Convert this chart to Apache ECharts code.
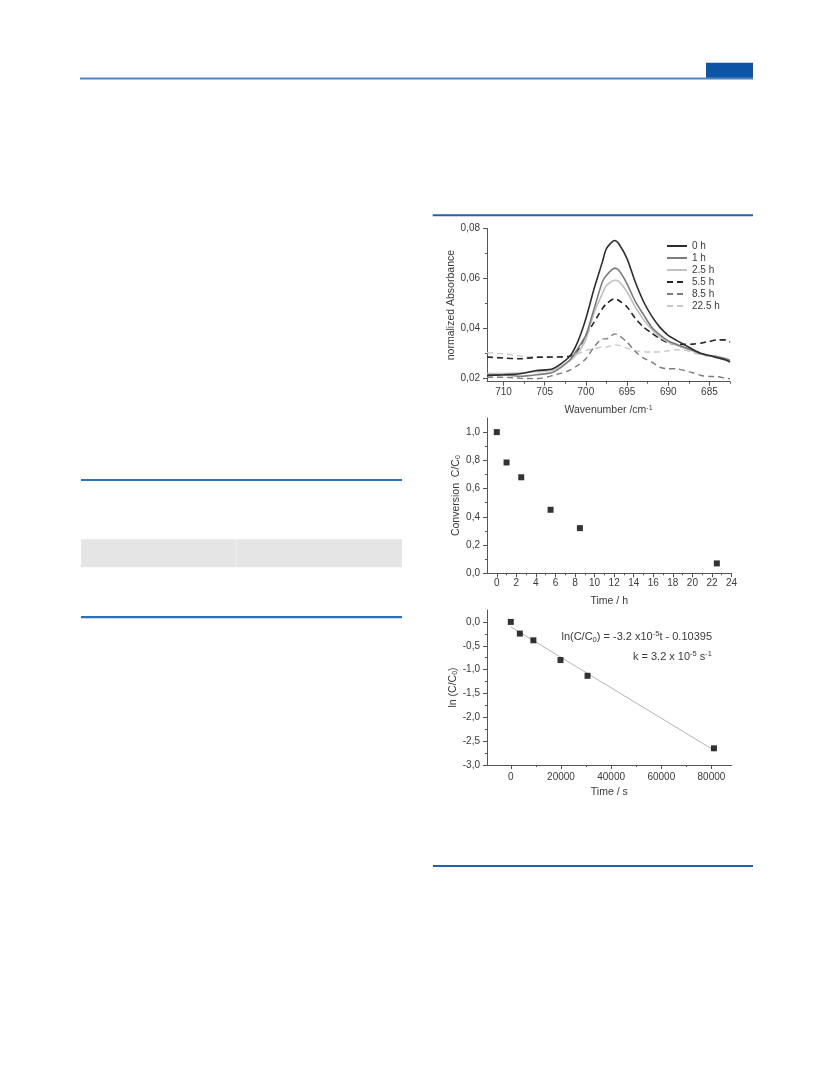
<!DOCTYPE html>
<html><head><meta charset="utf-8">
<script src="https://cdn.jsdelivr.net/npm/echarts@6/dist/echarts.min.js"></script>
<style>html,body{margin:0;padding:0;background:#fff}#c{width:833px;height:1091px}</style>
</head><body><div id="c"></div>
<script>
// ---- Spectra (top panel) ----
const wavenumbers = [712,710,708,706,704,702,701,700,699,698,697.5,696.5,696,695,694,693,692,691,690,689,688,687,686,685,684,683,682.5];
const abs0h  = [0.0210,0.0213,0.0217,0.0230,0.0237,0.0285,0.0344,0.0438,0.0558,0.0665,0.0719,0.0752,0.0739,0.0679,0.0585,0.0507,0.0448,0.0403,0.0371,0.0351,0.0333,0.0314,0.0298,0.0290,0.0281,0.0272,0.0264];
const abs1h  = [0.0213,0.0212,0.0207,0.0213,0.0223,0.0270,0.0317,0.0371,0.0478,0.0585,0.0612,0.0641,0.0632,0.0578,0.0507,0.0454,0.0404,0.0373,0.0349,0.0335,0.0322,0.0310,0.0298,0.0290,0.0285,0.0277,0.0270];
const abs2_5h= [0.0218,0.0218,0.0220,0.0225,0.0232,0.0268,0.0300,0.0355,0.0462,0.0538,0.0571,0.0592,0.0588,0.0545,0.0485,0.0435,0.0395,0.0364,0.0344,0.0331,0.0320,0.0308,0.0296,0.0288,0.0282,0.0274,0.0266];
const abs5_5h= [0.0284,0.0280,0.0277,0.0283,0.0284,0.0287,0.0310,0.0371,0.0424,0.0478,0.0498,0.0518,0.0511,0.0485,0.0440,0.0404,0.0380,0.0357,0.0341,0.0335,0.0335,0.0336,0.0340,0.0347,0.0353,0.0353,0.0344];
const abs8_5h= [0.0203,0.0203,0.0199,0.0197,0.0210,0.0230,0.0250,0.0277,0.0324,0.0357,0.0357,0.0377,0.0371,0.0344,0.0306,0.0280,0.0264,0.0243,0.0237,0.0237,0.0230,0.0221,0.0210,0.0206,0.0205,0.0199,0.0197];
const abs22_5h=[0.0301,0.0297,0.0288,0.0284,0.0284,0.0286,0.0297,0.0310,0.0317,0.0324,0.0324,0.0333,0.0331,0.0320,0.0310,0.0305,0.0304,0.0305,0.0309,0.0313,0.0312,0.0301,0.0293,0.0286,0.0284,0.0277,0.0270];
const spectraNames = ['0 h','1 h','2.5 h','5.5 h','8.5 h','22.5 h'];
const wnTickLabels = [710,705,700,695,690,685];
const wnMinorTicks = [707.5,702.5,697.5,692.5,687.5,682.5];
const absTickLabels = [0.02,0.04,0.06,0.08];
const absMinorTicks = [0.03,0.05,0.07];

// ---- Conversion (middle panel) ----
const timeHours = [0,1,2.5,5.5,8.5,22.5];
const conversion = [1.0,0.785,0.68,0.45,0.32,0.07];
const hourTickLabels = [0,2,4,6,8,10,12,14,16,18,20,22,24];
const hourMinorTicks = [1,3,5,7,9,11,13,15,17,19,21,23];
const convTickLabels = [0,0.2,0.4,0.6,0.8,1.0];
const convMinorTicks = [0.1,0.3,0.5,0.7,0.9];

// ---- ln plot (bottom panel) ----
const timeSeconds = [0,3600,9000,19800,30600,81000];
const lnConversion = [0,-0.245,-0.385,-0.80,-1.13,-2.65];
const fitTime = [0,81000];
const fitLn = [-0.104,-2.69];
const secTickLabels = [0,20000,40000,60000,80000];
const secMinorTicks = [10000,30000,50000,70000];
const lnTickLabels = [-3,-2.5,-2,-1.5,-1,-0.5,0];
const lnMinorTicks = [-2.75,-2.25,-1.75,-1.25,-0.75,-0.25];

const FONT = 'Liberation Sans, Arial, sans-serif';
const TXT = '#3a3a3a';
const AX = '#555';
const SUBRICH = {
  n:{fontSize:10.5,color:TXT,fontFamily:FONT},
  sub:{fontSize:7,color:TXT,fontFamily:FONT,verticalAlign:'bottom',lineHeight:8},
  sup:{fontSize:7,color:TXT,fontFamily:FONT,verticalAlign:'top',lineHeight:8}
};

const grids = [
  {left:487, top:228.5, width:243, height:153.2},
  {left:487, top:418, width:244.5, height:155.3},
  {left:487, top:610, width:244.5, height:155}
];

function mainAxis(dim, g, o) {
  return Object.assign({
    type:'value', gridIndex:g, scale:true,
    axisLine:{show:true, onZero:false, lineStyle:{color:AX,width:1}},
    axisTick:{show:true, length:4, customValues:o.ticks, lineStyle:{color:AX}},
    minorTick:{show:false},
    splitLine:{show:false},
    axisLabel:{show:true, customValues:o.ticks, formatter:o.fmt, color:TXT, fontSize:10, fontFamily:FONT, margin:o.margin},
    nameLocation:'middle', nameGap:o.nameGap, name:o.name,
    nameTextStyle:{rich:SUBRICH, color:TXT, fontSize:10.5, fontFamily:FONT}
  }, dim==='y'?{position:'left'}:{position:'bottom'}, o.extra||{});
}
function minorAxis(dim, g, o) {
  return Object.assign({
    type:'value', gridIndex:g, scale:true, min:o.min, max:o.max,
    axisLine:{show:false, onZero:false},
    axisTick:{show:true, length:2, customValues:o.minor, lineStyle:{color:AX}},
    axisLabel:{show:false, customValues:o.minor},
    splitLine:{show:false}
  }, dim==='y'?{position:'left'}:{position:'bottom'}, o.extra||{});
}

const xCfg = [
  {min:682.5, max:712, ticks:wnTickLabels, minor:wnMinorTicks, fmt:v=>String(v), margin:6, nameGap:23,
   name:'{n|Wavenumber /cm}{sup|-1}', extra:{inverse:true}},
  {min:-1, max:24, ticks:hourTickLabels, minor:hourMinorTicks, fmt:v=>String(v), margin:5, nameGap:22,
   name:'{n|Time / h}'},
  {min:-9500, max:88000, ticks:secTickLabels, minor:secMinorTicks, fmt:v=>String(v), margin:7, nameGap:22,
   name:'{n|Time / s}'}
];
const yCfg = [
  {min:0.0185, max:0.08, ticks:absTickLabels, minor:absMinorTicks, fmt:v=>v.toFixed(2).replace('.',','), margin:7, nameGap:21,
   name:'{n|normalized Absorbance}'},
  {min:0, max:1.1, ticks:convTickLabels, minor:convMinorTicks, fmt:v=>v.toFixed(1).replace('.',','), margin:7, nameGap:25,
   name:'{n|Conversion  C/C}{sub|0}'},
  {min:-3, max:0.25, ticks:lnTickLabels, minor:lnMinorTicks, fmt:v=>v.toFixed(1).replace('.',','), margin:7, nameGap:24,
   name:'{n|ln (C/C}{sub|0}{n|)}'}
];

const xAxes = [], yAxes = [];
for (let g=0; g<3; g++) {
  xAxes.push(Object.assign(mainAxis('x', g, xCfg[g]), {min:xCfg[g].min, max:xCfg[g].max}));
  xAxes.push(minorAxis('x', g, xCfg[g]));
  yAxes.push(Object.assign(mainAxis('y', g, yCfg[g]), {min:yCfg[g].min, max:yCfg[g].max}));
  yAxes.push(minorAxis('y', g, yCfg[g]));
}

const spectra = [abs0h, abs1h, abs2_5h, abs5_5h, abs8_5h, abs22_5h];
const lineStyles = [
  {color:'#2e2e2e', width:1.6, type:'solid'},
  {color:'#7c7c7c', width:1.6, type:'solid'},
  {color:'#c0c0c0', width:1.6, type:'solid'},
  {color:'#262626', width:1.6, type:[6,4]},
  {color:'#7c7c7c', width:1.4, type:[6,4]},
  {color:'#c8c8c8', width:1.4, type:[6,4]}
];

const series = spectra.map((arr, i) => ({
  name: spectraNames[i], type:'line', xAxisIndex:0, yAxisIndex:0,
  data: wavenumbers.map((w, k) => [w, arr[k]]),
  symbol:'none', showSymbol:false, smooth:0.25,
  lineStyle: lineStyles[i], itemStyle:{color: lineStyles[i].color},
  z: 10 - i
}));

series.push({
  type:'scatter', xAxisIndex:2, yAxisIndex:2,
  data: timeHours.map((t,i)=>[t, conversion[i]]),
  symbol:'rect', symbolSize:6, itemStyle:{color:'#000'}
});
series.push({
  type:'line', xAxisIndex:4, yAxisIndex:4,
  data: fitTime.map((t,i)=>[t, fitLn[i]]),
  symbol:'none', lineStyle:{color:'#b5b5b5', width:1}, z:1
});
series.push({
  type:'scatter', xAxisIndex:4, yAxisIndex:4,
  data: timeSeconds.map((t,i)=>[t, lnConversion[i]]),
  symbol:'rect', symbolSize:6, itemStyle:{color:'#000'}, z:5
});

const RICH11 = {
  n:{fontSize:11, fontFamily:FONT, fill:TXT, color:TXT, lineHeight:14},
  sub:{fontSize:7.5, fontFamily:FONT, fill:TXT, color:TXT, verticalAlign:'bottom', lineHeight:8},
  sup:{fontSize:7.5, fontFamily:FONT, fill:TXT, color:TXT, verticalAlign:'top', lineHeight:8}
};

const graphic = [
  // page decorations
  {type:'rect', shape:{x:80, y:77.5, width:673, height:2}, style:{fill:'#4f81bd'}, silent:true},
  {type:'rect', shape:{x:706, y:62.7, width:47, height:15}, style:{fill:'#0b54a6'}, silent:true},
  {type:'rect', shape:{x:432.7, y:214.3, width:320.3, height:2}, style:{fill:'#1f62b3'}, silent:true},
  {type:'rect', shape:{x:433, y:865, width:320, height:2}, style:{fill:'#1f62b3'}, silent:true},
  {type:'rect', shape:{x:81, y:479, width:321, height:2}, style:{fill:'#2f70b8'}, silent:true},
  {type:'rect', shape:{x:81, y:539.3, width:321, height:28}, style:{fill:'#e5e5e5'}, silent:true},
  {type:'rect', shape:{x:235.8, y:539.3, width:1, height:28}, style:{fill:'#efefef'}, silent:true},
  {type:'rect', shape:{x:81, y:616, width:321, height:2.2}, style:{fill:'#2f70b8'}, silent:true},
  // annotations
  {type:'text', x:712, y:637, style:{
    text:'{n|ln(C/C}{sub|0}{n|) = -3.2 x10}{sup|-5}{n|t - 0.10395}',
    rich:RICH11, align:'right', verticalAlign:'middle'}},
  {type:'text', x:712, y:657, style:{
    text:'{n|k = 3.2 x 10}{sup|-5}{n| s}{sup|-1}',
    rich:RICH11, align:'right', verticalAlign:'middle'}}
];

const chart = echarts.init(document.getElementById('c'), null, {renderer:'canvas'});
chart.setOption({
  animation:false,
  backgroundColor:'#fff',
  grid: grids.map(g => Object.assign({containLabel:false}, g)),
  xAxis: xAxes,
  yAxis: yAxes,
  legend: {
    data: spectraNames, orient:'vertical', left:666, top:240,
    itemWidth:20, itemHeight:12, itemGap:0, padding:0,
    itemStyle:{color:'rgba(0,0,0,0)', borderColor:'rgba(0,0,0,0)', borderWidth:0, opacity:0},
    textStyle:{fontSize:10, fontFamily:FONT, color:TXT, lineHeight:12}
  },
  graphic: graphic,
  series: series
});
</script>
</body></html>
